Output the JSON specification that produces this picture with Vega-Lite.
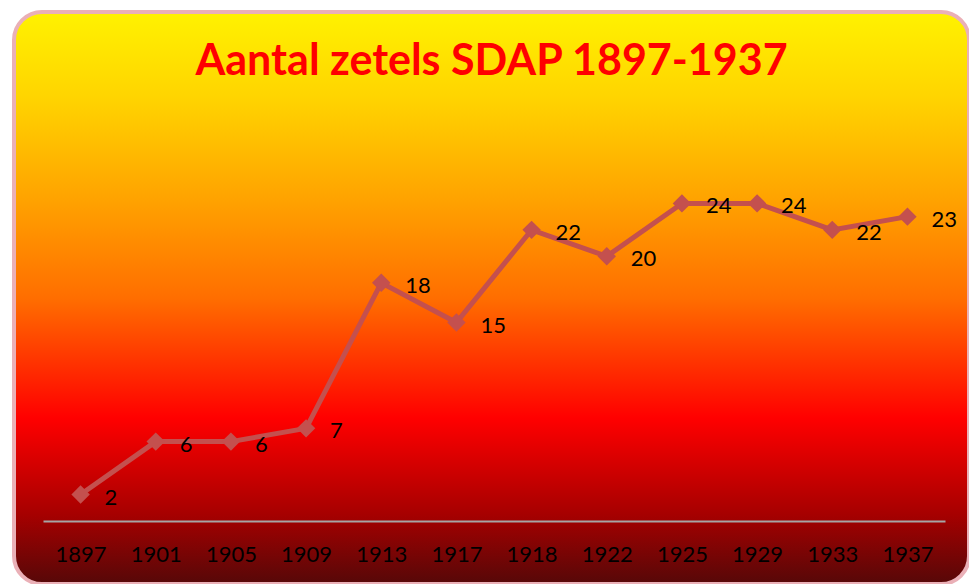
{
  "$schema": "https://vega.github.io/schema/vega-lite/v6.json",
  "autosize": {"type": "none"},
  "padding": {"left": 14, "top": 12, "right": 0, "bottom": 0},
  "width": 955,
  "height": 572,
  "background": "#ffffff",
  "title": {
    "text": "Aantal zetels SDAP 1897-1937",
    "font": "Lato",
    "fontSize": 43,
    "fontWeight": "bold",
    "color": "#FF0000",
    "anchor": "middle",
    "frame": "group",
    "baseline": "alphabetic",
    "offset": -106
  },
  "config": {
    "view": {
      "fill": {
        "gradient": "linear",
        "x1": 0, "y1": 0, "x2": 0, "y2": 1,
        "stops": [
          {"offset": 0, "color": "#FFF200"},
          {"offset": 0.15, "color": "#FFD400"},
          {"offset": 0.33, "color": "#FFA200"},
          {"offset": 0.5, "color": "#FF6E00"},
          {"offset": 0.71, "color": "#FF0000"},
          {"offset": 0.88, "color": "#A50000"},
          {"offset": 1, "color": "#560808"}
        ]
      },
      "stroke": "#eab0b7",
      "strokeWidth": 4,
      "cornerRadius": 28
    }
  },
  "data": {
    "values": [
      {"jaar": "1897", "zetels": 2},
      {"jaar": "1901", "zetels": 6},
      {"jaar": "1905", "zetels": 6},
      {"jaar": "1909", "zetels": 7},
      {"jaar": "1913", "zetels": 18},
      {"jaar": "1917", "zetels": 15},
      {"jaar": "1918", "zetels": 22},
      {"jaar": "1922", "zetels": 20},
      {"jaar": "1925", "zetels": 24},
      {"jaar": "1929", "zetels": 24},
      {"jaar": "1933", "zetels": 22},
      {"jaar": "1937", "zetels": 23}
    ]
  },
  "encoding": {
    "x": {
      "field": "jaar",
      "type": "ordinal",
      "sort": null,
      "scale": {"type": "point", "range": [29, 931], "padding": 0.5},
      "axis": {
        "title": null,
        "orient": "bottom",
        "offset": -63,
        "labelAngle": 0,
        "labelFont": "Lato",
        "labelFontSize": 22,
        "labelColor": "#000000",
        "labelPadding": 23,
        "ticks": false,
        "grid": false,
        "domainColor": "#a6a6a6",
        "domainWidth": 2
      }
    },
    "y": {
      "field": "zetels",
      "type": "quantitative",
      "scale": {"domain": [0, 30], "range": [509, 112], "nice": false, "zero": true},
      "axis": null
    }
  },
  "layer": [
    {
      "mark": {"type": "line", "color": "#C4504E", "strokeWidth": 5}
    },
    {
      "mark": {"type": "point", "shape": "diamond", "filled": true, "size": 340, "color": "#C4504E", "opacity": 1}
    },
    {
      "mark": {"type": "text", "align": "left", "baseline": "middle", "dx": 24, "dy": 3, "font": "Lato", "fontSize": 22, "color": "#000000"},
      "encoding": {"text": {"field": "zetels", "type": "quantitative"}}
    }
  ]
}
